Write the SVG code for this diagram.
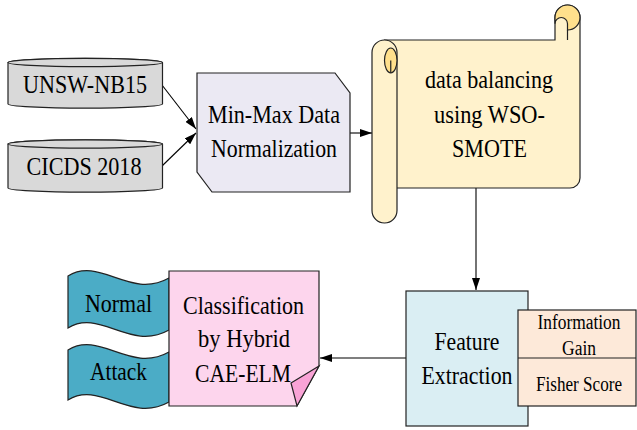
<svg xmlns="http://www.w3.org/2000/svg" width="637" height="430" viewBox="0 0 637 430">
<defs>
<style>
.t{font-family:"Liberation Serif","Times New Roman",serif;font-size:26px;fill:#000;text-anchor:middle}
.s{font-size:20px}
.sh{stroke:#222;stroke-width:1.2}
.ln{fill:none;stroke:#000;stroke-width:1.1}
</style>
<marker id="ah" viewBox="0 0 12 8" refX="12" refY="4" markerWidth="12" markerHeight="8" markerUnits="userSpaceOnUse" orient="auto">
<path d="M0,0 L12,4 L0,8 Z" fill="#000"/>
</marker>
</defs>
<rect width="637" height="430" fill="#fff"/>

<g id="connectors">
<path class="ln" d="M162,85 L196,129" marker-end="url(#ah)"/>
<path class="ln" d="M162,166 L196,133" marker-end="url(#ah)"/>
<path class="ln" d="M350,133 L372,133" marker-end="url(#ah)"/>
<path class="ln" d="M476,188 L476,290" stroke="#666" marker-end="url(#ah)"/>
<path class="ln" d="M406,358 L320,358" marker-end="url(#ah)"/>
</g>

<g id="unsw">
<path class="sh" fill="#d9d9d9" d="M8,62.5 V104 A77.25,4.2 0 0 0 162.5,104 V62.5 A77.25,4.2 0 0 0 8,62.5 Z"/>
<ellipse class="sh" fill="#d9d9d9" cx="85.25" cy="62.5" rx="77.25" ry="4.2"/>
<text class="t" x="85" y="93" textLength="124" lengthAdjust="spacingAndGlyphs">UNSW-NB15</text>
</g>

<g id="cicds">
<path class="sh" fill="#d9d9d9" d="M8,144 V188 A77.25,4.2 0 0 0 162.5,188 V144 A77.25,4.2 0 0 0 8,144 Z"/>
<ellipse class="sh" fill="#d9d9d9" cx="85.25" cy="144" rx="77.25" ry="4.2"/>
<text class="t" x="84" y="175" textLength="115" lengthAdjust="spacingAndGlyphs">CICDS 2018</text>
</g>

<g id="minmax">
<path class="sh" fill="#ebe9f3" d="M197,73 H335 L350,93 V192 H212 L197,172 Z"/>
<text class="t" x="274" y="123" textLength="132" lengthAdjust="spacingAndGlyphs">Min-Max Data</text>
<text class="t" x="274" y="157" textLength="126" lengthAdjust="spacingAndGlyphs">Normalization</text>
</g>

<g id="balancing">
<path class="sh" fill="#fff2cc" d="M384.5,40 H555 V17.5 A12.5,12.5 0 0 1 580,17.5 V178 A10,10 0 0 1 570,188 H384.5 Z"/>
<path class="sh" fill="#ffe08c" d="M555,17.5 A12.5,12.5 0 0 1 580,17.5 A12.5,12.5 0 0 1 567.5,30 V23.75 A6.25,6.25 0 0 0 555,23.75 Z"/>
<path class="sh" fill="none" d="M567.5,30 V40"/>
<path class="sh" fill="#fff2cc" d="M372,52.5 A12.5,12.5 0 0 1 397,52.5 V210.5 A12.5,12.5 0 0 1 372,210.5 Z"/>
<ellipse class="sh" fill="#ffe08c" cx="390.75" cy="60.5" rx="6.25" ry="12.5"/>
<path class="sh" fill="none" d="M390.75,60.5 V73"/>
<text class="t" x="489" y="88" textLength="128" lengthAdjust="spacingAndGlyphs">data balancing</text>
<text class="t" x="489.5" y="123" textLength="111" lengthAdjust="spacingAndGlyphs">using WSO-</text>
<text class="t" x="489.5" y="157" textLength="75" lengthAdjust="spacingAndGlyphs">SMOTE</text>
</g>

<g id="feature">
<rect class="sh" fill="#daeef3" x="406" y="291" width="122" height="135"/>
<text class="t" x="467" y="350" textLength="65" lengthAdjust="spacingAndGlyphs">Feature</text>
<text class="t" x="467" y="384" textLength="91" lengthAdjust="spacingAndGlyphs">Extraction</text>
</g>

<g id="methods">
<rect class="sh" fill="#fde9d9" x="518" y="310" width="118" height="96"/>
<path class="sh" d="M518,358 H636"/>
<text class="t s" x="579" y="329" textLength="83" lengthAdjust="spacingAndGlyphs">Information</text>
<text class="t s" x="579" y="355" textLength="34" lengthAdjust="spacingAndGlyphs">Gain</text>
<text class="t s" x="579" y="391" textLength="86" lengthAdjust="spacingAndGlyphs">Fisher Score</text>
</g>

<g id="normal">
<path class="sh" fill="#4bacc6" d="M68,276 C100,256 130,300 169,278 V330 C130,352 100,308 68,328 Z"/>
<text class="t" x="118.5" y="312" textLength="67" lengthAdjust="spacingAndGlyphs">Normal</text>
</g>

<g id="attack">
<path class="sh" fill="#4bacc6" d="M68,350 C100,330 130,374 169,352 V402 C130,424 100,380 68,400 Z"/>
<text class="t" x="118.5" y="380" textLength="57" lengthAdjust="spacingAndGlyphs">Attack</text>
</g>

<g id="classification">
<path class="sh" fill="#fdd5ed" d="M169,271 H319 V366 L297,406 H169 Z"/>
<path class="sh" fill="#f9a3d6" d="M319,366 L291,383 L297,406 Z"/>
<text class="t" x="243.5" y="314" textLength="121" lengthAdjust="spacingAndGlyphs">Classification</text>
<text class="t" x="244" y="347" textLength="92" lengthAdjust="spacingAndGlyphs">by Hybrid</text>
<text class="t" x="243" y="382" textLength="96" lengthAdjust="spacingAndGlyphs">CAE-ELM</text>
</g>
</svg>
